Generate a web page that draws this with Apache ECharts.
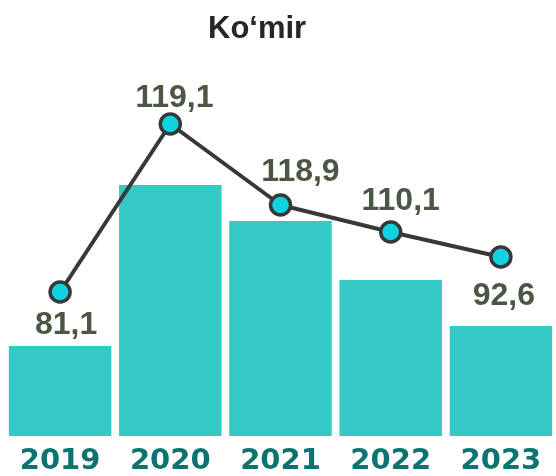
<!DOCTYPE html>
<html>
<head>
    <meta charset="UTF-8">
    <title>Ko'mir</title>
    <style>
        html, body { margin: 0; padding: 0; background: #fff; }
        #chart { width: 556px; height: 476px; }
    </style>
</head>
<body>
<div id="chart"></div>
<script src="https://cdn.jsdelivr.net/npm/echarts@6/dist/echarts.min.js"></script>
<script>
    // data
    var years = ['2019', '2020', '2021', '2022', '2023'];
    var barValues = [22.5, 62.75, 53.75, 39, 27.5];
    var lineValues = [36, 78, 57.75, 51, 44.75];
    var lineLabels = ['81,1', '119,1', '118,9', '110,1', '92,6'];

    // label offsets around each marker
    var labelOffsets = [[6, 33], [4, -26], [20, -33], [10, -31], [3, 39]];

    var chart = echarts.init(document.getElementById('chart'));

    var lineData = lineValues.map(function (v, i) {
        return {
            value: v,
            label: { offset: labelOffsets[i] }
        };
    });

    var option = {
        animation: false,
        title: {
            text: 'Ko\u2018mir',
            left: 203,
            top: 9,
            textStyle: {
                fontFamily: 'Liberation Sans',
                fontWeight: 'bold',
                fontSize: 31,
                color: '#262626'
            }
        },
        grid: { left: 5, width: 555, top: 36, bottom: 40, containLabel: false },
        xAxis: {
            type: 'category',
            data: years,
            axisLine: { show: false },
            axisTick: { show: false },
            axisLabel: {
                margin: 11,
                fontFamily: 'DejaVu Sans',
                fontWeight: 'bold',
                fontSize: 29,
                color: '#0b7470'
            }
        },
        yAxis: {
            type: 'value',
            min: 0,
            max: 100,
            show: false
        },
        series: [{
            type: 'bar',
            data: barValues,
            barCategoryGap: '7%',
            itemStyle: { color: '#35c9c5' }
        }, {
            type: 'line',
            data: lineData,
            symbol: 'circle',
            symbolSize: 20,
            lineStyle: { color: '#38383a', width: 4 },
            itemStyle: { color: '#10d3e1', borderColor: '#38383a', borderWidth: 3.5 },
            label: {
                show: true,
                position: 'inside',
                align: 'center',
                verticalAlign: 'middle',
                formatter: function (p) { return lineLabels[p.dataIndex]; },
                fontFamily: 'Liberation Sans',
                fontWeight: 'bold',
                fontSize: 32,
                color: '#4b5644'
            },
            z: 3
        }]
    };

    chart.setOption(option);
</script>
</body>
</html>
